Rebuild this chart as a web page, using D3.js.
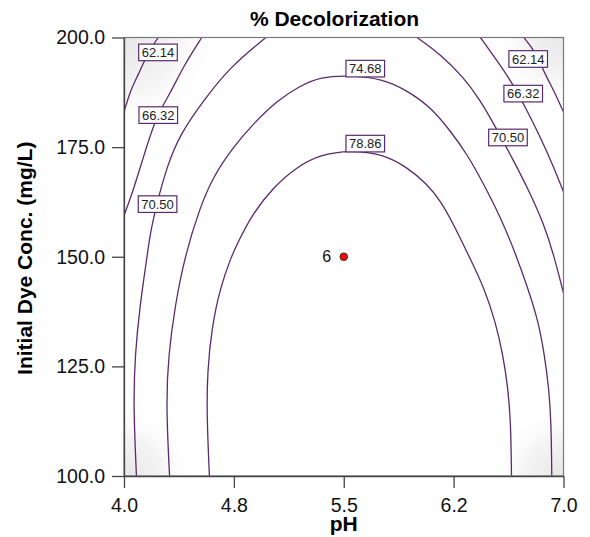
<!DOCTYPE html>
<html>
<head>
<meta charset="utf-8">
<script src="https://cdn.jsdelivr.net/npm/d3@7"></script>
<style>
  body { margin: 0; background: #fff; }
  svg { font-family: "Liberation Sans", Arial, sans-serif; }
  .axis text { font-size: 19.5px; fill: #111; }
  .axis path, .axis line { stroke: #444; stroke-width: 1.3; }
</style>
</head>
<body>
<svg class="chart"></svg>
<script>
// tick values and labels as printed on the chart
var phTicks = [4.0, 4.75, 5.5, 6.25, 7.0];
var phTickLabels = ["4.0", "4.8", "5.5", "6.2", "7.0"];
var concTicks = [100, 125, 150, 175, 200];
var concTickLabels = ["100.0", "125.0", "150.0", "175.0", "200.0"];

// contour lines: [pH, conc]
var c6214Left = [[4.234, 200], [4.164, 196.6], [4.096, 191.4], [4.041, 187.7], [4.0, 183.0]];
var c6214Right = [[6.729, 200], [6.809, 196.7], [6.877, 191.4], [6.934, 187.9], [7.0, 183.0]];
var c6632Left = [[4.531, 200], [4.403, 193.3], [4.314, 187.1], [4.223, 182.3], [4.132, 172.7], [4.062, 165.0], [4.0, 159.4]];
var c6632Right = [[6.433, 200], [6.547, 194.7], [6.638, 190.3], [6.752, 183.3], [6.843, 177.2], [6.934, 170.4], [7.0, 164.8]];
var c7050Left = [[4.968, 200], [4.724, 193.3], [4.542, 185.6], [4.383, 178.0], [4.292, 170.5], [4.223, 162.0], [4.178, 155.2],
                 [4.157, 149.9], [4.109, 139.0], [4.075, 127.6], [4.064, 116.2], [4.085, 100]];
var c7050Right = [[6.000, 200], [6.159, 196.2], [6.319, 190.9], [6.433, 185.6], [6.524, 180.3], [6.660, 171.9], [6.775, 164.3],
                  [6.865, 157.5], [6.934, 150.4], [7.0, 141.7]];
var c7468 = [[4.311, 100], [4.287, 116.2], [4.303, 127.6], [4.349, 139.0], [4.417, 150.4], [4.519, 161.3], [4.608, 168.2],
             [4.745, 175.0], [4.882, 180.3], [5.044, 185.6], [5.203, 189.0], [5.339, 191.0], [5.544, 191.4], [5.772, 190.5],
             [5.932, 187.9], [6.091, 184.2], [6.228, 178.7], [6.342, 173.4], [6.455, 166.6], [6.569, 159.1], [6.664, 151.5],
             [6.757, 142.8], [6.829, 135.2], [6.870, 127.6], [6.900, 120.0], [6.916, 112.4], [6.920, 100]];
var c7886 = [[4.583, 100], [4.565, 113.9], [4.569, 123.8], [4.599, 133.8], [4.656, 142.9], [4.731, 149.9], [4.772, 152.9],
             [4.875, 159.7], [5.020, 165.9], [5.180, 170.5], [5.339, 173.3], [5.544, 174.3], [5.770, 173.4], [5.932, 170.4],
             [6.069, 166.6], [6.159, 162.8], [6.248, 157.5], [6.358, 149.9], [6.460, 142.8], [6.535, 135.2], [6.587, 127.6],
             [6.621, 120.0], [6.640, 112.4], [6.645, 100]];

// label boxes on the contours
var labelText = ["62.14", "66.32", "70.50", "74.68", "78.86", "62.14", "66.32", "70.50"];
var labelPh = [4.232, 4.234, 4.229, 5.647, 5.647, 6.759, 6.725, 6.621];
var labelConc = [196.6, 182.3, 162.0, 192.9, 175.8, 195.1, 187.2, 177.2];

// design point
var designPh = [5.5];
var designConc = [150];
var designRuns = ["6"];

// low-response corners that are shaded grey
var shadePh = [4.0, 7.0, 4.0, 7.0];
var shadeConc = [200, 200, 100, 100];

window.onload = function () {
    var width = 590, height = 537;
    var margin = { top: 37.5, right: 26.5, bottom: 61, left: 124 };
    var lineColor = "#5a2a6c";

    var svg = d3.select("svg.chart").attr("width", width).attr("height", height);

    var x = d3.scaleLinear().domain([4, 7]).range([margin.left, width - margin.right]);
    var y = d3.scaleLinear().domain([100, 200]).range([height - margin.bottom, margin.top]);

    var defs = svg.append("defs");
    defs.append("clipPath").attr("id", "plotClip")
        .append("rect")
        .attr("x", x(4)).attr("y", y(200))
        .attr("width", x(7) - x(4)).attr("height", y(100) - y(200));

    var grad = defs.append("radialGradient").attr("id", "shade");
    grad.append("stop").attr("offset", "0%").attr("stop-color", "#e6e6e6").attr("stop-opacity", 1);
    grad.append("stop").attr("offset", "55%").attr("stop-color", "#f0f0f0").attr("stop-opacity", 0.75);
    grad.append("stop").attr("offset", "100%").attr("stop-color", "#ffffff").attr("stop-opacity", 0);

    var plot = svg.append("g").attr("clip-path", "url(#plotClip)");

    plot.selectAll("circle.shade")
        .data(shadePh)
        .enter().append("circle")
        .attr("class", "shade")
        .attr("cx", function (d) { return x(d); })
        .attr("cy", function (d, i) { return y(shadeConc[i]); })
        .attr("r", function (d, i) { return i === 0 ? 95 : 70; })
        .attr("fill", "url(#shade)");

    var line = d3.line()
        .x(function (d) { return x(d[0]); })
        .y(function (d) { return y(d[1]); })
        .curve(d3.curveBasis);

    var contours = [c6214Left, c6214Right, c6632Left, c6632Right, c7050Left, c7050Right, c7468, c7886];
    plot.selectAll("path.contour")
        .data(contours)
        .enter().append("path")
        .attr("class", "contour")
        .attr("d", line)
        .attr("fill", "none")
        .attr("stroke", lineColor)
        .attr("stroke-width", 1.3);

    // frame
    svg.append("rect")
        .attr("x", x(4)).attr("y", y(200))
        .attr("width", x(7) - x(4)).attr("height", y(100) - y(200))
        .attr("fill", "none").attr("stroke", "#777").attr("stroke-width", 1.2);

    svg.append("g").attr("class", "axis")
        .attr("transform", "translate(0," + y(100) + ")")
        .call(d3.axisBottom(x).tickValues(phTicks)
            .tickFormat(function (d, i) { return phTickLabels[i]; })
            .tickSize(12).tickSizeOuter(0).tickPadding(10));

    svg.append("g").attr("class", "axis")
        .attr("transform", "translate(" + x(4) + ",0)")
        .call(d3.axisLeft(y).tickValues(concTicks)
            .tickFormat(function (d, i) { return concTickLabels[i]; })
            .tickSize(12).tickSizeOuter(0).tickPadding(7));

    // contour labels
    var labels = svg.selectAll("g.clabel")
        .data(labelText)
        .enter().append("g")
        .attr("class", "clabel")
        .attr("transform", function (d, i) {
            return "translate(" + x(labelPh[i]) + "," + y(labelConc[i]) + ")";
        });
    labels.append("rect")
        .attr("x", -19.3).attr("y", -8.3)
        .attr("width", 38.6).attr("height", 16.6)
        .attr("fill", "#fff")
        .attr("stroke", lineColor)
        .attr("stroke-width", 1.2);
    labels.append("text")
        .attr("text-anchor", "middle")
        .attr("y", 4.8)
        .attr("font-size", "13px")
        .attr("fill", "#222")
        .text(function (d) { return d; });

    // design point
    svg.selectAll("circle.design")
        .data(designPh)
        .enter().append("circle")
        .attr("class", "design")
        .attr("cx", function (d) { return x(d); })
        .attr("cy", function (d, i) { return y(designConc[i]); })
        .attr("r", 3.8)
        .attr("fill", "#ff0000")
        .attr("stroke", "#333")
        .attr("stroke-width", 1);
    svg.selectAll("text.design")
        .data(designPh)
        .enter().append("text")
        .attr("class", "design")
        .attr("x", function (d) { return x(d) - 12.5; })
        .attr("y", function (d, i) { return y(designConc[i]) + 5.5; })
        .attr("text-anchor", "end")
        .attr("font-size", "16px")
        .attr("fill", "#111")
        .text(function (d, i) { return designRuns[i]; });

    // titles
    svg.append("text")
        .attr("x", 334.5).attr("y", 26)
        .attr("text-anchor", "middle")
        .attr("font-size", "21px").attr("font-weight", "bold")
        .text("% Decolorization");

    svg.append("text")
        .attr("x", (x(4) + x(7)) / 2).attr("y", 531)
        .attr("text-anchor", "middle")
        .attr("font-size", "21px").attr("font-weight", "bold")
        .text("pH");

    svg.append("text")
        .attr("transform", "translate(32," + ((y(100) + y(200)) / 2 + 1.5) + ") rotate(-90)")
        .attr("text-anchor", "middle")
        .attr("font-size", "21px").attr("font-weight", "bold")
        .text("Initial Dye Conc. (mg/L)");
};
</script>
</body>
</html>
